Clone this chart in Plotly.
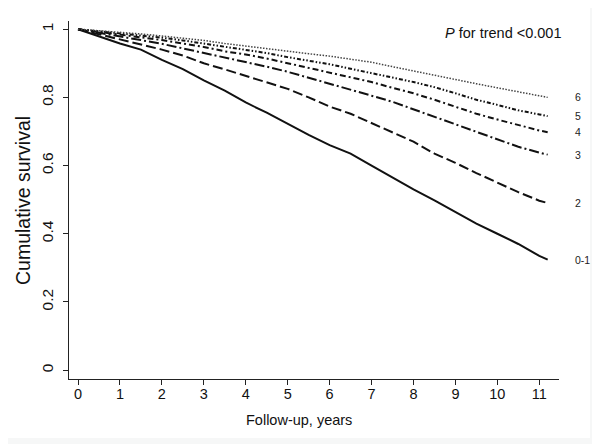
import plotly.graph_objects as go

years = [0, 0.5, 1, 1.5, 2, 2.5, 3, 3.5, 4, 4.5, 5, 5.5, 6, 6.5, 7, 7.5, 8, 8.5, 9, 9.5, 10, 10.5, 11, 11.2]

surv_0_1 = [1.0, 0.978, 0.958, 0.94, 0.91, 0.883, 0.85, 0.82, 0.785, 0.755, 0.722, 0.69, 0.66, 0.635, 0.6, 0.565, 0.53, 0.498, 0.465, 0.43, 0.40, 0.37, 0.335, 0.324]
surv_2 = [1.0, 0.985, 0.972, 0.957, 0.94, 0.923, 0.9, 0.882, 0.863, 0.845, 0.825, 0.8, 0.773, 0.752, 0.725, 0.698, 0.67, 0.635, 0.608, 0.578, 0.55, 0.522, 0.497, 0.49]
surv_3 = [1.0, 0.99, 0.98, 0.968, 0.957, 0.944, 0.93, 0.916, 0.905, 0.89, 0.875, 0.858, 0.84, 0.822, 0.805, 0.787, 0.765, 0.742, 0.72, 0.698, 0.678, 0.655, 0.638, 0.632]
surv_4 = [1.0, 0.992, 0.985, 0.977, 0.968, 0.958, 0.948, 0.935, 0.926, 0.914, 0.9, 0.887, 0.873, 0.86, 0.845, 0.828, 0.812, 0.793, 0.773, 0.752, 0.735, 0.718, 0.703, 0.698]
surv_5 = [1.0, 0.994, 0.988, 0.982, 0.975, 0.967, 0.958, 0.948, 0.94, 0.93, 0.918, 0.908, 0.897, 0.884, 0.872, 0.858, 0.845, 0.83, 0.812, 0.793, 0.778, 0.762, 0.75, 0.745]
surv_6 = [1.0, 0.996, 0.991, 0.986, 0.98, 0.974, 0.967, 0.958, 0.95, 0.942, 0.935, 0.928, 0.921, 0.912, 0.903, 0.89, 0.877, 0.865, 0.852, 0.84, 0.828, 0.817, 0.806, 0.8]

group_labels = ["0-1", "2", "3", "4", "5", "6"]
x_ticks = list(range(0, 12))
y_ticks = [0, 0.2, 0.4, 0.6, 0.8, 1]
y_tick_text = ["0", "0.2", "0.4", "0.6", "0.8", "1"]

series = [surv_0_1, surv_2, surv_3, surv_4, surv_5, surv_6]
dashes = ["solid", "10px,4px", "10px,3px,2px,3px", "6px,3px,2px,3px",
          "4px,2px,1.5px,2px,1.5px,2px", "1.5px,1.5px"]
widths = [2, 2, 2, 2, 2, 1.5]
colors = ["#111", "#111", "#111", "#111", "#111", "#444"]

FONT = "Liberation Sans, Arial, sans-serif"

fig = go.Figure()
for lab, ys, d, w, c in zip(group_labels, series, dashes, widths, colors):
    fig.add_trace(go.Scatter(x=years, y=ys, mode="lines", name=lab,
                             line=dict(color=c, width=w, dash=d),
                             showlegend=False, hoverinfo="skip"))

annotations = []
for lab, ys in zip(group_labels, series):
    annotations.append(dict(x=1.029, xref="paper", y=ys[-1], yref="y",
                            text=lab, showarrow=False, xanchor="left",
                            yanchor="middle", font=dict(size=10.5, color="#222")))

annotations.append(dict(x=1.008, xref="paper", y=0.9665, yref="paper",
                        text="<i>P</i> for trend <0.001", showarrow=False,
                        xanchor="right", yanchor="middle",
                        font=dict(size=14.5, color="#111")))
annotations.append(dict(x=0.469, xref="paper", y=-0.1145, yref="paper",
                        text="Follow-up, years", showarrow=False,
                        xanchor="center", yanchor="middle",
                        font=dict(size=14.5, color="#111")))
annotations.append(dict(x=-0.0939, xref="paper", y=0.5, yref="paper",
                        text="Cumulative survival", showarrow=False,
                        textangle=-90, xanchor="center", yanchor="middle",
                        font=dict(size=19.5, color="#111")))

# white card on slightly grey page
shapes = [dict(type="rect", xref="paper", yref="paper",
               x0=-0.15, x1=1.0633, y0=-0.1648, y1=1.05,
               fillcolor="white", line=dict(width=0), layer="below")]

# the page body has an 8px margin, so the figure is 8px smaller and offset
fig.update_layout(
    width=592, height=436,
    margin=dict(l=61, r=41, t=13, b=65),
    paper_bgcolor="#f6f7f7",
    plot_bgcolor="rgba(0,0,0,0)",
    font=dict(family=FONT, color="#111"),
    annotations=annotations,
    shapes=shapes,
    xaxis=dict(range=[-0.215, 11.47], tickvals=x_ticks, ticks="outside",
               ticklen=5, tickcolor="#222", showline=True, linecolor="#222",
               linewidth=1, showgrid=False, zeroline=False,
               ticklabelstandoff=-3,
               tickfont=dict(size=14.5, color="#111")),
    yaxis=dict(range=[-0.026, 1.024], tickvals=y_ticks, ticktext=y_tick_text,
               ticks="outside", ticklen=5, tickcolor="#222", showline=True,
               linecolor="#222", linewidth=1, showgrid=False, zeroline=False,
               tickangle=-90, ticklabelstandoff=4,
               tickfont=dict(size=15.5, color="#111")),
)

fig.write_html("out.html")
